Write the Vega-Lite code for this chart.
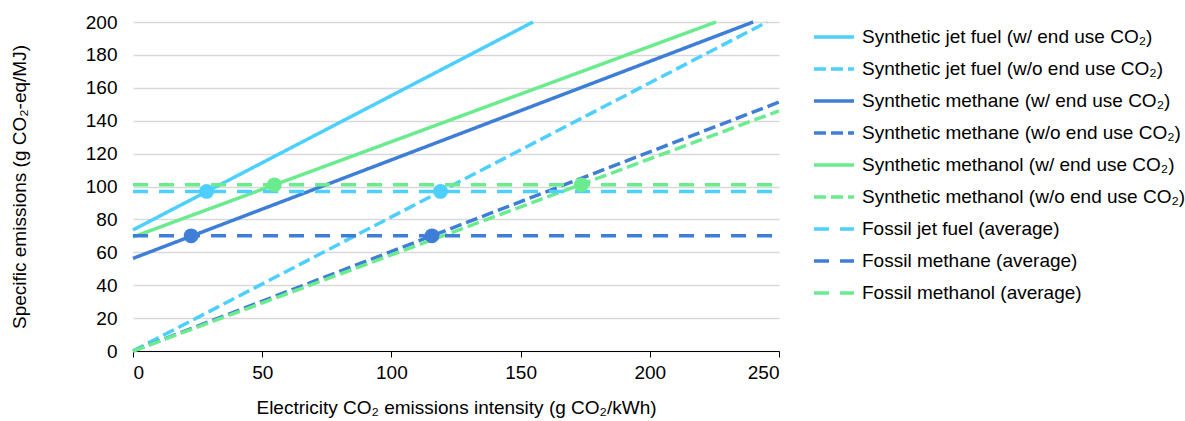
{
  "$schema": "https://vega.github.io/schema/vega-lite/v6.json",
  "autosize": {"type": "none"},
  "padding": {"left": 133, "top": 22, "right": 406, "bottom": 70},
  "width": 646,
  "height": 329,
  "config": {
    "font": "Arial",
    "view": {"stroke": null},
    "axis": {"labelFont": "Arial", "titleFont": "Arial", "labelFontSize": 19, "titleFontSize": 19, "labelColor": "#000", "titleColor": "#000", "titleFontWeight": "normal", "labelFontWeight": "normal"},
    "legend": {"labelFont": "Arial", "labelFontSize": 19, "labelColor": "#000", "labelFontWeight": "normal", "labelLimit": 400}
  },
  "datasets": {
    "lines": [
      {"series": "Synthetic jet fuel (w/ end use CO₂)", "x": 0, "y": 73.6},
      {"series": "Synthetic jet fuel (w/ end use CO₂)", "x": 154.8, "y": 200},
      {"series": "Synthetic jet fuel (w/o end use CO₂)", "x": 0, "y": 0},
      {"series": "Synthetic jet fuel (w/o end use CO₂)", "x": 245.4, "y": 200},
      {"series": "Synthetic methane (w/ end use CO₂)", "x": 0, "y": 56.3},
      {"series": "Synthetic methane (w/ end use CO₂)", "x": 240, "y": 200},
      {"series": "Synthetic methane (w/o end use CO₂)", "x": 0, "y": 0},
      {"series": "Synthetic methane (w/o end use CO₂)", "x": 250, "y": 151.3},
      {"series": "Synthetic methanol (w/ end use CO₂)", "x": 0, "y": 69.3},
      {"series": "Synthetic methanol (w/ end use CO₂)", "x": 225.6, "y": 200},
      {"series": "Synthetic methanol (w/o end use CO₂)", "x": 0, "y": 0},
      {"series": "Synthetic methanol (w/o end use CO₂)", "x": 250, "y": 146},
      {"series": "Fossil jet fuel (average)", "x": 0, "y": 97},
      {"series": "Fossil jet fuel (average)", "x": 250, "y": 97},
      {"series": "Fossil methane (average)", "x": 0, "y": 70},
      {"series": "Fossil methane (average)", "x": 250, "y": 70},
      {"series": "Fossil methanol (average)", "x": 0, "y": 101},
      {"series": "Fossil methanol (average)", "x": 250, "y": 101}
    ],
    "points": [
      {"series": "Fossil jet fuel (average)", "x": 28.5, "y": 97},
      {"series": "Fossil jet fuel (average)", "x": 119, "y": 97},
      {"series": "Fossil methane (average)", "x": 22.5, "y": 70},
      {"series": "Fossil methane (average)", "x": 115.7, "y": 70},
      {"series": "Fossil methanol (average)", "x": 54.7, "y": 101},
      {"series": "Fossil methanol (average)", "x": 173.5, "y": 101}
    ]
  },
  "encoding": {
    "x": {"field": "x", "type": "quantitative", "scale": {"domain": [0, 250], "nice": false},
      "axis": {"values": [0, 50, 100, 150, 200, 250], "grid": false, "domainColor": "#000", "tickColor": "#000", "tickSize": 6, "labelPadding": 6, "labelFontSize": 19, "titleFontSize": 19, "labelOverlap": false, "title": "Electricity CO₂ emissions intensity (g CO₂/kWh)", "titlePadding": 16}},
    "y": {"field": "y", "type": "quantitative", "scale": {"domain": [0, 200], "nice": false},
      "axis": {"values": [0, 20, 40, 60, 80, 100, 120, 140, 160, 180, 200], "domain": false, "ticks": false, "labelPadding": 16, "labelFontSize": 19, "titleFontSize": 19, "labelOverlap": false, "gridColor": "#d9d9d9", "gridWidth": 1.5, "title": "Specific emissions (g CO₂-eq/MJ)", "titlePadding": 56}},
    "color": {"field": "series", "type": "nominal",
      "scale": {
        "domain": ["Synthetic jet fuel (w/ end use CO₂)", "Synthetic jet fuel (w/o end use CO₂)", "Synthetic methane (w/ end use CO₂)", "Synthetic methane (w/o end use CO₂)", "Synthetic methanol (w/ end use CO₂)", "Synthetic methanol (w/o end use CO₂)", "Fossil jet fuel (average)", "Fossil methane (average)", "Fossil methanol (average)"],
        "range": ["#4dcfff", "#4dcfff", "#3f7ed7", "#3f7ed7", "#6aec8e", "#6aec8e", "#4dcfff", "#3f7ed7", "#6aec8e"]
      },
      "legend": {"title": null, "orient": "none", "legendX": 679, "legendY": -7, "symbolType": "stroke", "symbolSize": 1600, "symbolStrokeWidth": 3.5, "labelOffset": 6, "rowPadding": -1.5, "labelFontSize": 19, "labelLimit": 400, "labelFontWeight": "normal"}
    }
  },
  "layer": [
    {
      "data": {"name": "lines"},
      "mark": {"type": "line", "strokeWidth": 3.5, "strokeCap": "butt"},
      "encoding": {
        "strokeDash": {"field": "series", "type": "nominal",
          "scale": {
            "domain": ["Synthetic jet fuel (w/ end use CO₂)", "Synthetic jet fuel (w/o end use CO₂)", "Synthetic methane (w/ end use CO₂)", "Synthetic methane (w/o end use CO₂)", "Synthetic methanol (w/ end use CO₂)", "Synthetic methanol (w/o end use CO₂)", "Fossil jet fuel (average)", "Fossil methane (average)", "Fossil methanol (average)"],
            "range": [[1, 0], [12, 5], [1, 0], [12, 5], [1, 0], [12, 5], [15, 11], [15, 11], [15, 11]]
          },
          "legend": {"title": null, "orient": "none", "legendX": 679, "legendY": -7, "symbolType": "stroke", "symbolSize": 1600, "symbolStrokeWidth": 3.5, "labelOffset": 6, "rowPadding": -1.5, "labelFontSize": 19, "labelLimit": 400, "labelFontWeight": "normal"}
        }
      }
    },
    {
      "data": {"name": "points"},
      "mark": {"type": "circle", "size": 220, "opacity": 1}
    }
  ]
}
